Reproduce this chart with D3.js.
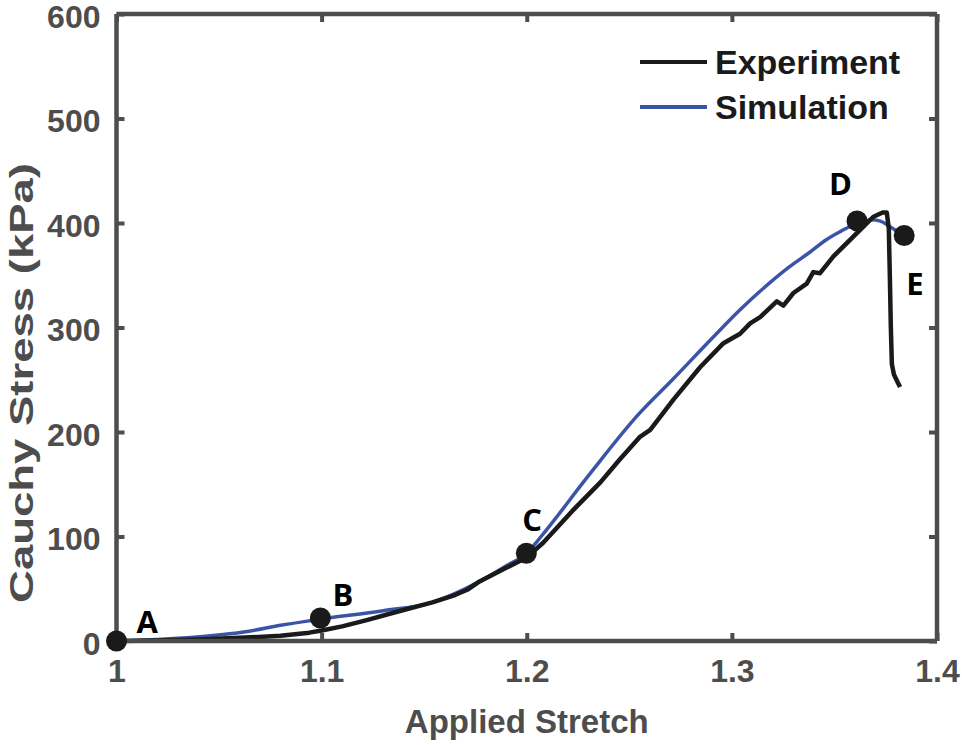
<!DOCTYPE html>
<html>
<head>
<meta charset="utf-8">
<script src="https://cdn.jsdelivr.net/npm/d3@7"></script>
<style>
  html, body { margin: 0; padding: 0; background: #fff; }
  svg { display: block; }
</style>
</head>
<body>
<svg id="chart" width="962" height="745"></svg>
<script>
// ---- Data ----
const xTicks = [1, 1.1, 1.2, 1.3, 1.4];
const xTickLabels = ["1", "1.1", "1.2", "1.3", "1.4"];
const yTicks = [0, 100, 200, 300, 400, 500, 600];
const yTickLabels = ["0", "100", "200", "300", "400", "500", "600"];

const simStretch = [1, 1.02, 1.046, 1.062, 1.08, 1.1, 1.13, 1.154, 1.175, 1.19, 1.2, 1.207, 1.23, 1.255, 1.271, 1.29, 1.304, 1.318, 1.328, 1.338, 1.346, 1.353, 1.359, 1.364, 1.368, 1.372, 1.376, 1.379, 1.382, 1.384];
const simStress  = [0, 1.5, 5, 8.6, 15, 21, 29, 37, 55, 72, 84, 100, 158, 218, 250, 289, 317, 342, 358, 372, 384, 392, 398, 401, 403, 402, 398, 394, 390, 388];

const expStretch = [1, 1.02, 1.04, 1.06, 1.08, 1.094, 1.1, 1.11, 1.122, 1.135, 1.154, 1.165, 1.171, 1.177, 1.19, 1.2, 1.208, 1.222, 1.236, 1.245, 1.255, 1.2602, 1.2715, 1.2845, 1.2959, 1.304, 1.3089, 1.3138, 1.3219, 1.3251, 1.33, 1.3365, 1.3397, 1.343, 1.3495, 1.3592, 1.369, 1.3735, 1.3755, 1.3765, 1.377, 1.3775, 1.378, 1.379, 1.381, 1.382];
const expStress  = [0, 0.5, 1.5, 3, 5, 8, 10, 14, 20, 27, 37, 44, 49, 57, 70, 80, 94, 124, 152, 173, 195, 202, 231, 262, 285, 294, 304, 310, 325, 321, 333, 342, 353, 352, 368, 387, 406, 410, 410, 395, 350, 300, 265, 255, 247, 243];

const pointNames   = ["A", "B", "C", "D", "E"];
const pointStretch = [1, 1.0994, 1.1998, 1.361, 1.384];
const pointStress  = [0, 22, 84, 402, 388];

const legendNames = ["Experiment", "Simulation"];
const legendColors = ["#1a1a1a", "#3a55a8"];

// ---- Layout ----
const svg = d3.select("#chart");
const mLeft = 116.5, mRight = 937, mTop = 14, mBottom = 641;
const axisColor = "#4d4d4d";

const x = d3.scaleLinear().domain([1, 1.4]).range([mLeft, mRight]);
const y = d3.scaleLinear().domain([0, 600]).range([mBottom, mTop]);

// Curves
const simData = simStretch.map((v, i) => [v, simStress[i]]);
const expData = expStretch.map((v, i) => [v, expStress[i]]);

svg.append("path").datum(simData)
  .attr("d", d3.line().x(d => x(d[0])).y(d => y(d[1])).curve(d3.curveMonotoneX))
  .attr("fill", "none").attr("stroke", legendColors[1]).attr("stroke-width", 3.5);

svg.append("path").datum(expData)
  .attr("d", d3.line().x(d => x(d[0])).y(d => y(d[1])).curve(d3.curveLinear))
  .attr("fill", "none").attr("stroke", legendColors[0]).attr("stroke-width", 4.5)
  .attr("stroke-linejoin", "round");

// Axes (box with inward ticks)
const fontAxis = "'Liberation Sans', Arial, sans-serif";
const axB = d3.axisBottom(x).tickValues(xTicks).tickFormat((d, i) => xTickLabels[i]).tickSize(-8).tickPadding(18);
const axT = d3.axisTop(x).tickValues(xTicks).tickFormat("").tickSize(-8);
const axL = d3.axisLeft(y).tickValues(yTicks).tickFormat((d, i) => yTickLabels[i]).tickSize(-8).tickPadding(16);
const axR = d3.axisRight(y).tickValues(yTicks).tickFormat("").tickSize(-8);

function styleAxis(g) {
  g.attr("font-family", fontAxis);
  g.select(".domain").attr("stroke", axisColor).attr("stroke-width", 4.5);
  g.selectAll(".tick line").attr("stroke", axisColor).attr("stroke-width", 4);
  g.selectAll(".tick text").attr("fill", axisColor).attr("font-size", 32)
    .attr("font-weight", "bold").attr("font-family", fontAxis);
}
svg.append("g").attr("transform", `translate(0,${mBottom})`).call(axB).call(styleAxis).call(g => g.selectAll(".domain").attr("d", `M${mLeft},0H${mRight}`));
svg.append("g").attr("transform", `translate(0,${mTop})`).call(axT).call(styleAxis).call(g => g.selectAll(".domain").attr("d", `M${mLeft},0H${mRight}`));
svg.append("g").attr("transform", `translate(${mLeft},0)`).call(axL).call(styleAxis)
  .call(g => g.selectAll(".domain").attr("d", `M0,${mBottom}V${mTop}`))
  .call(g => g.selectAll(".tick text").attr("dy", "0.42em"));
svg.append("g").attr("transform", `translate(${mRight},0)`).call(axR).call(styleAxis).call(g => g.selectAll(".domain").attr("d", `M0,${mBottom}V${mTop}`));

// Axis titles
svg.append("text").attr("x", (mLeft + mRight) / 2).attr("y", 733)
  .attr("text-anchor", "middle").attr("fill", axisColor).attr("font-size", 33)
  .attr("font-weight", "bold").attr("font-family", fontAxis).text("Applied Stretch");
svg.append("text").attr("transform", `translate(33,383) rotate(-90)`)
  .attr("text-anchor", "middle").attr("fill", axisColor).attr("font-size", 33)
  .attr("font-weight", "bold").attr("font-family", fontAxis)
  .attr("textLength", 440).attr("lengthAdjust", "spacingAndGlyphs")
  .text("Cauchy Stress (kPa)");

// Markers and labels
const labelOffsets = [[20, -8], [12, -12], [-4, -22], [-28, -26], [2, 59]];
pointNames.forEach((n, i) => {
  const cx = x(pointStretch[i]), cy = y(pointStress[i]);
  svg.append("circle").attr("cx", cx).attr("cy", cy).attr("r", 10.5).attr("fill", "#1a1a1a");
  svg.append("text").attr("x", cx + labelOffsets[i][0]).attr("y", cy + labelOffsets[i][1])
    .attr("fill", "#000").attr("font-size", 31).attr("font-weight", "bold")
    .attr("font-family", "'Open Sans', sans-serif").text(n);
});

// Legend
const legY = [62, 107];
legendNames.forEach((n, i) => {
  svg.append("line").attr("x1", 640).attr("x2", 707).attr("y1", legY[i]).attr("y2", legY[i])
    .attr("stroke", legendColors[i]).attr("stroke-width", 4);
  svg.append("text").attr("x", 715).attr("y", legY[i] + 12)
    .attr("fill", "#1a1a1a").attr("font-size", 34).attr("font-weight", "bold")
    .attr("font-family", fontAxis).text(n);
});
</script>
</body>
</html>
